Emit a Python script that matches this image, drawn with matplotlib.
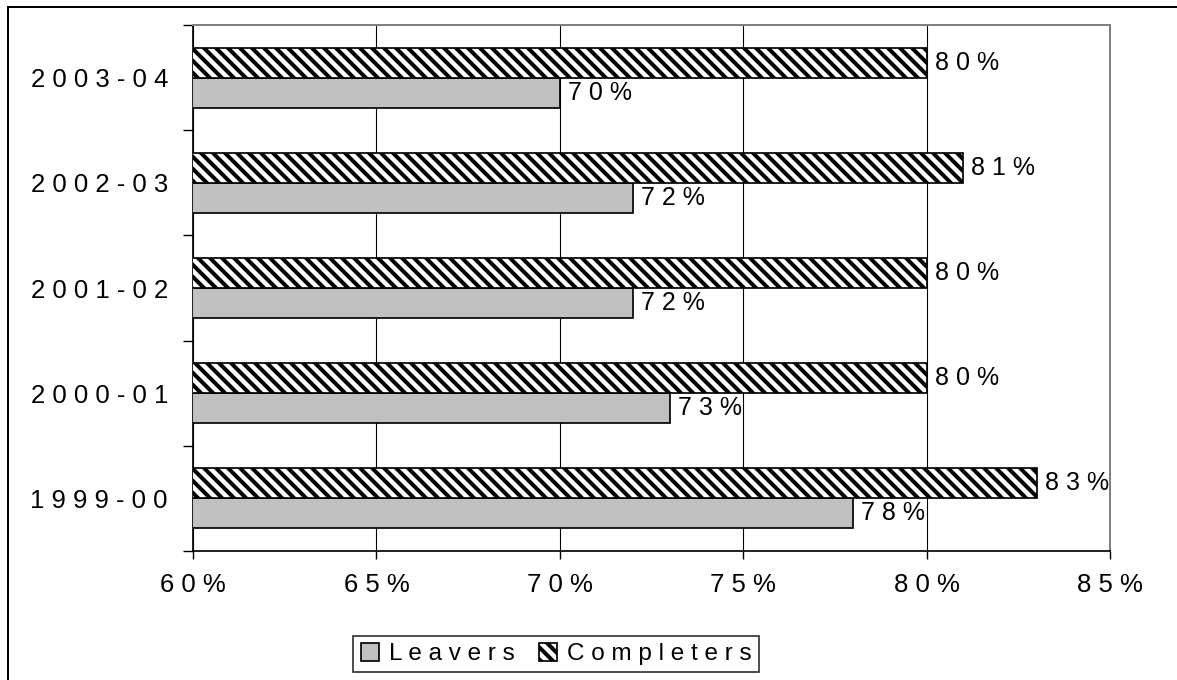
import numpy as np
import matplotlib.pyplot as plt
from matplotlib import font_manager
from matplotlib.patches import Rectangle
from matplotlib.ticker import FixedLocator

# at 72 dpi one point is one pixel, so all sizes below are in pixels
DPI = 72
W, H = 1177, 680

# pick a narrow Arial-like face if one is around
names = {f.name for f in font_manager.fontManager.ttflist}
face = 'Liberation Sans Narrow' if 'Liberation Sans Narrow' in names else 'Liberation Sans'
plt.rcParams['font.family'] = [face, 'DejaVu Sans']
plt.rcParams['hatch.linewidth'] = 4.0


def spaced(s):
    return ' '.join(s)


years = ['1999-00', '2000-01', '2001-02', '2002-03', '2003-04']
leavers = [78, 73, 72, 72, 70]
completers = [83, 80, 80, 81, 80]
xticks = [60, 65, 70, 75, 80, 85]

fig = plt.figure(figsize=(W / DPI, H / DPI), dpi=DPI)
ax = fig.add_axes([193 / W, 1 - 551 / H, (1110 - 193) / W, (551 - 25) / H])

y = np.arange(len(years))
h = 0.285
ax.barh(y - h / 2, leavers, height=h, left=0, color='#c0c0c0', edgecolor='black',
        linewidth=1.7, label=spaced('Leavers'), zorder=3)
ax.barh(y + h / 2, completers, height=h, left=0, color='white', edgecolor='black',
        hatch='\\\\', linewidth=1.7, label=spaced('Completers'), zorder=3)

for i in range(len(years)):
    ax.text(leavers[i] + 0.22, y[i] - h / 2, spaced(f'{leavers[i]}%'),
            va='center', ha='left', fontsize=25, zorder=4)
    ax.text(completers[i] + 0.22, y[i] + h / 2, spaced(f'{completers[i]}%'),
            va='center', ha='left', fontsize=25, zorder=4)

ax.set_xlim(60, 85)
ax.set_ylim(-0.5, len(years) - 0.5)
ax.set_xticks(xticks)
ax.set_xticklabels([spaced(f'{v}%') for v in xticks], fontsize=25.7)
ax.set_yticks(y)
ax.set_yticklabels([spaced(s) for s in years], fontsize=25.7)
ax.yaxis.set_minor_locator(FixedLocator(np.arange(-0.5, len(years), 1.0)))
ax.tick_params(axis='y', which='major', length=0, pad=25)
ax.tick_params(axis='y', which='minor', length=10, width=1.4, direction='out')
ax.tick_params(axis='x', which='major', length=8, width=1.4, direction='out', pad=14)

ax.grid(axis='x', color='black', linewidth=1.1, zorder=0)
for side in ['top', 'right']:
    ax.spines[side].set_color('#808080')
    ax.spines[side].set_linewidth(2)
for side in ['left', 'bottom']:
    ax.spines[side].set_color('black')
    ax.spines[side].set_linewidth(1.7)

leg = fig.legend(loc='center', bbox_to_anchor=(556 / W, 1 - 654 / H), ncol=2,
                 fontsize=24.3, frameon=True, fancybox=False, handlelength=0.75,
                 handleheight=0.75, handletextpad=0.4, columnspacing=1.0,
                 borderpad=0.3, edgecolor='black')
leg.get_frame().set_linewidth(1.7)

# outer frame round the whole chart
fig.add_artist(Rectangle((8 / W, -0.05), 1.2, 1 - 7 / H + 0.05,
                         transform=fig.transFigure, fill=False,
                         edgecolor='black', linewidth=2))

fig.savefig('out.png', dpi=DPI)
